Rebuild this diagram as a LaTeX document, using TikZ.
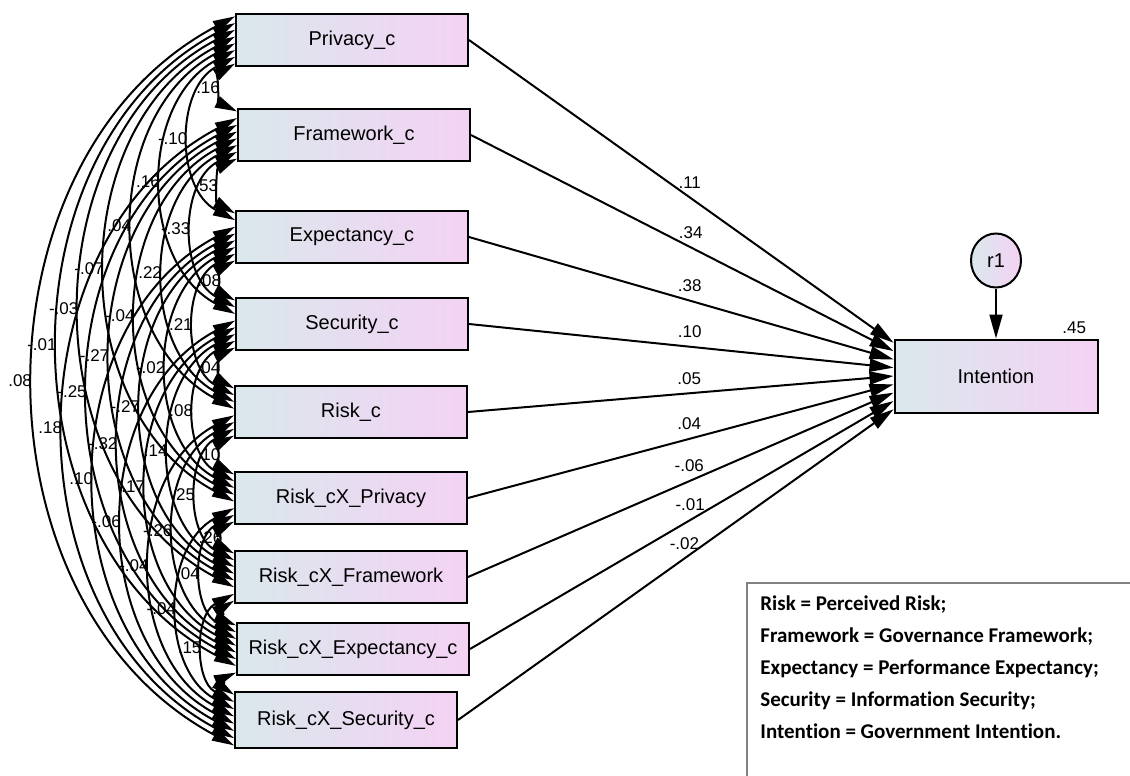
\documentclass[tikz,border=0pt]{standalone}
\usepackage{fontspec}
\setmainfont{Liberation Sans}
\newfontfamily\legendfont[Ligatures=NoCommon]{Carlito}
\usetikzlibrary{positioning,calc,arrows.meta,shapes.geometric}

\definecolor{boxleft}{RGB}{218,232,236}
\definecolor{boxright}{RGB}{244,210,244}
\definecolor{framegray}{RGB}{130,130,130}

\tikzset{
  obs/.style={draw, line width=1pt, left color=boxleft, right color=boxright,
    minimum width=116pt, minimum height=26pt, inner sep=0pt,
    font=\fontsize{10}{12}\selectfont},
  latent/.style={ellipse, draw, line width=1pt, left color=boxleft, right color=boxright,
    minimum width=25pt, minimum height=27pt, inner sep=0pt,
    font=\fontsize{10}{12}\selectfont},
  reg/.style={>={Triangle[length=12pt,width=6.5pt]}, ->, line width=1pt},
  cov/.style={>={Triangle[length=11pt,width=6pt]}, <->, line width=1pt},
  coef/.style={above=3pt, inner sep=1pt, font=\fontsize{8.5}{10}\selectfont},
  cval/.style={left, inner sep=1pt, font=\fontsize{8.5}{10}\selectfont},
  legtext/.style={anchor=base west, inner sep=0pt,
    font=\legendfont\bfseries\fontsize{10.5}{12}\selectfont},
}

\begin{document}
\begin{tikzpicture}[x=0.5pt, y=-0.5pt]
\useasboundingbox (0,0) rectangle (1130,776);

% observed predictors
\node[obs] (x1) at (352,40) {Privacy\_c};
\node[obs] (x2) at (354,135) {Framework\_c};
\node[obs] (x3) at (352,237) {Expectancy\_c};
\node[obs] (x4) at (352,324) {Security\_c};
\node[obs] (x5) at (351,412) {Risk\_c};
\node[obs] (x6) at (351,498) {Risk\_cX\_Privacy};
\node[obs] (x7) at (351,577) {Risk\_cX\_Framework};
\node[obs] (x8) at (353,649) {Risk\_cX\_Expectancy\_c};
\node[obs, minimum width=111pt, minimum height=28pt] (x9) at (346,720) {Risk\_cX\_Security\_c};

% outcome and its residual
\node[obs, minimum width=101.5pt, minimum height=36.5pt] (intention) at (996,376) {Intention};
\node[latent, above=25pt of intention] (r1) {r1};
\node[above left=1pt and 5pt, inner sep=1pt, font=\fontsize{8.5}{10}\selectfont] (rsq) at (intention.north east) {.45};
\draw[reg] (r1) -- (intention);

% regression weights
\foreach \k/\c in {1/.11, 2/.34, 3/.38, 4/.10, 5/.05, 6/.04, 7/-.06, 8/-.01, 9/-.02}{
  \pgfmathsetmacro\fr{(\k-0.5)/9}
  \draw[reg] (x\k.east) -- node[coef, pos=0.52] {\c} ($(intention.north west)!\fr!(intention.south west)$);
}

% covariances, ends spread down the left sides
\foreach \i/\j/\c in {1/2/.16, 1/3/-.10, 1/4/.16, 1/5/.04, 1/6/-.07, 1/7/-.03, 1/8/-.01, 1/9/.08,
    2/3/.53, 2/4/-.33, 2/5/.22, 2/6/-.04, 2/7/-.27, 2/8/-.25, 2/9/.18,
    3/4/.08, 3/5/.21, 3/6/-.02, 3/7/-.27, 3/8/-.32, 3/9/.10,
    4/5/.04, 4/6/.08, 4/7/.14, 4/8/.17, 4/9/-.06,
    5/6/.10, 5/7/.25, 5/8/-.26, 5/9/-.04,
    6/7/.26, 6/8/.04, 6/9/-.04,
    7/8/{}, 7/9/.15,
    8/9/-}{
  \pgfmathsetmacro\fa{(\i+8.5-\j)/8}
  \pgfmathsetmacro\fb{(\j-\i-0.5)/8}
  \draw[cov] ($(x\i.north west)!\fa!(x\i.south west)$)
    to[bend right=62, looseness=1.06] node[cval] {\c}
    ($(x\j.north west)!\fb!(x\j.south west)$);
}

% legend
\draw[framegray, line width=0.7pt] (1130,583) -| (747,776);
\foreach \t [count=\k] in {Risk = Perceived Risk;, Framework = Governance Framework;,
    Expectancy = Performance Expectancy;, Security = Information Security;,
    Intention = Government Intention.}
  \node[legtext] (leg\k) at (760,{610+32*(\k-1)}) {\t};
\end{tikzpicture}
\end{document}
